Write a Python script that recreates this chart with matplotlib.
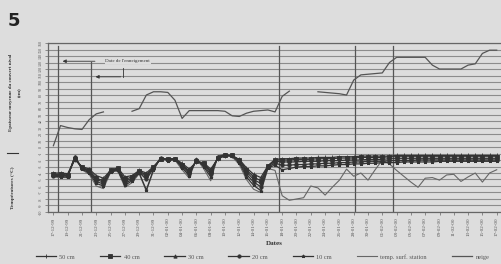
import matplotlib
matplotlib.use("Agg")
import matplotlib.pyplot as plt
import numpy as np
import datetime as dt

start = dt.date(1999, 12, 17)
days = list(range(63))

snow_cm = [2, 33, 30, 28, 27, 42, 51, 54, np.nan, np.nan,
           np.nan, 55, 59, 80, 85, 85, 84, 72, 44, 56,
           56, 56, 56, 56, 55, 48, 47, 52, 55, 56,
           57, 54, 78, 86, np.nan, np.nan, np.nan, 85, 84, 83,
           82, 80, 103, 111, 112, 113, 114, 130, 138, 138,
           138, 138, 138, 126, 120, 120, 120, 120, 126, 128,
           144, 149, 149]

t50 = [-4.0, -4.0, -4.1, -2.0, -3.0, -3.4, -4.4, -4.8, -3.6, -3.2,
       -4.6, -4.4, -3.6, -4.0, -3.0, -1.9, -1.8, -1.8, -2.5, -3.4,
       -2.3, -2.4, -3.4, -1.8, -1.4, -1.4, -1.9, -3.2, -4.2, -4.7,
       -2.9, -1.9, -1.8, -1.8, -1.7, -1.7, -1.7, -1.6, -1.6, -1.6,
       -1.5, -1.5, -1.5, -1.4, -1.4, -1.4, -1.4, -1.4, -1.3, -1.3,
       -1.3, -1.3, -1.3, -1.3, -1.3, -1.3, -1.3, -1.3, -1.3, -1.3,
       -1.3, -1.3, -1.3]
t40 = [-4.2, -4.2, -4.3, -1.8, -3.1, -3.6, -4.8, -5.2, -3.5, -3.3,
       -5.0, -4.6, -3.7, -4.3, -3.1, -1.8, -1.9, -1.8, -2.7, -3.7,
       -2.2, -2.5, -3.7, -1.7, -1.3, -1.3, -2.0, -3.5, -4.6, -5.2,
       -2.9, -2.0, -2.0, -2.0, -1.9, -1.9, -1.9, -1.8, -1.8, -1.8,
       -1.7, -1.7, -1.7, -1.6, -1.6, -1.6, -1.6, -1.5, -1.5, -1.5,
       -1.5, -1.5, -1.5, -1.5, -1.5, -1.5, -1.5, -1.5, -1.5, -1.5,
       -1.5, -1.5, -1.5]
t30 = [-4.3, -4.3, -4.4, -1.6, -3.2, -3.7, -5.0, -5.4, -3.5, -3.4,
       -5.3, -4.8, -3.8, -4.6, -3.2, -1.8, -1.9, -1.8, -2.8, -3.9,
       -2.1, -2.6, -3.9, -1.6, -1.3, -1.3, -2.0, -3.8, -5.0, -5.6,
       -3.0, -2.2, -2.3, -2.3, -2.3, -2.2, -2.2, -2.2, -2.1, -2.1,
       -2.1, -2.0, -2.0, -2.0, -1.9, -1.9, -1.9, -1.8, -1.8, -1.8,
       -1.8, -1.8, -1.8, -1.8, -1.8, -1.8, -1.8, -1.8, -1.8, -1.8,
       -1.8, -1.8, -1.8]
t20 = [-4.4, -4.4, -4.5, -1.5, -3.3, -3.8, -5.3, -5.7, -3.7, -3.5,
       -5.6, -5.0, -3.9, -5.0, -3.3, -1.7, -2.0, -1.8, -3.0, -4.1,
       -2.0, -2.8, -4.2, -1.5, -1.2, -1.3, -2.2, -4.2, -5.4, -6.1,
       -3.1, -2.5, -2.8, -2.8, -2.7, -2.7, -2.6, -2.6, -2.5, -2.5,
       -2.4, -2.4, -2.3, -2.3, -2.2, -2.2, -2.2, -2.1, -2.1, -2.1,
       -2.1, -2.0, -2.0, -2.0, -2.0, -2.0, -2.0, -2.0, -2.0, -2.0,
       -2.0, -2.0, -2.0]
t10 = [-4.5, -4.6, -4.6, -1.5, -3.4, -4.0, -5.6, -6.0, -3.8, -3.6,
       -5.9, -5.2, -4.0, -6.6, -3.5, -1.7, -2.1, -1.9, -3.2, -4.4,
       -1.9, -3.0, -4.6, -1.5, -1.2, -1.4, -2.4, -4.6, -5.9, -6.7,
       -3.2, -2.8, -3.5, -3.3, -3.1, -3.0, -3.0, -2.9, -2.9, -2.8,
       -2.7, -2.7, -2.6, -2.6, -2.5, -2.5, -2.4, -2.4, -2.4, -2.3,
       -2.3, -2.3, -2.3, -2.3, -2.2, -2.2, -2.2, -2.2, -2.2, -2.2,
       -2.2, -2.2, -2.2]
t_surf = [-4.6, -4.7, -4.7, -1.4, -3.5, -4.2, -6.0, -6.4, -3.9, -3.6,
          -6.2, -5.5, -4.1, -6.8, -3.6, -1.6, -2.1, -2.0, -3.5, -4.8,
          -1.8, -3.3, -5.2, -1.4, -1.1, -1.5, -2.7, -5.0, -6.5, -7.0,
          -3.3, -3.6, -7.5, -8.2, -8.0, -7.8, -6.0, -6.3, -7.4, -6.2,
          -5.1, -3.4, -4.5, -4.0, -5.1, -3.5, -2.0, -2.6, -3.6, -4.5,
          -5.4, -6.2, -4.8, -4.7, -5.1, -4.3, -4.2, -5.3, -4.6, -4.0,
          -5.4, -4.0, -3.5]

event_days = [0.7, 5.3, 31.6, 42.2, 47.5]
date_labels = [(start + dt.timedelta(days=d)).strftime("%d-%m-%y") for d in range(0, 63, 2)]

bg = "#dddddd"
ink = "#333333"
grid_c = "#8c8c8c"
serif = ["Liberation Serif", "DejaVu Serif"]

fig = plt.figure(figsize=(5.01, 2.64), dpi=100, facecolor=bg)
ax = fig.add_axes([0.096, 0.197, 0.904, 0.640])
ax.set_facecolor(bg)
ax.set_xlim(-0.74, 62.6)
ax.set_ylim(-10, 16)

for y in range(-10, 17):
    ax.axhline(y, color=grid_c, lw=0.8, zorder=1)

tops = [0.98, 0.89, 0.98, 0.98, 0.98]
for d, tp in zip(event_days, tops):
    ax.axvline(d, ymin=0, ymax=tp, color="#555555", lw=0.9, zorder=2)

series = [(t50, "+", "50 cm"), (t40, "s", "40 cm"), (t30, "^", "30 cm"),
          (t20, "o", "20 cm"), (t10, "*", "10 cm")]
handles = []
for vals, mk, lab in series:
    h, = ax.plot(days, vals, color=ink, lw=0.9, marker=mk, ms=2.4,
                 mfc=ink, mec=ink, mew=0.6, label=lab, zorder=4)
    handles.append(h)
h, = ax.plot(days, t_surf, color="#666666", lw=0.8, label="temp. surf. station", zorder=3)
handles.append(h)

ax2 = ax.twinx()
ax2.set_ylim(-100, 160)
h, = ax2.plot(days, snow_cm, color="#555555", lw=0.9, label="neige", zorder=3)
handles.append(h)
ax2.set_yticks([])
for sp in ax2.spines.values():
    sp.set_visible(False)

# annotation
ax.annotate("", xy=(event_days[0] + 0.2, 13.2), xytext=(6.2, 13.2),
            arrowprops=dict(arrowstyle="-|>", color=ink, lw=0.6, mutation_scale=5), zorder=6)
ax.text(10.4, 13.2, "Date de l'enneigement", fontsize=3.6, family=serif,
        ha="center", va="center", color=ink,
        bbox=dict(boxstyle="square,pad=0.15", fc=bg, ec="none"), zorder=6)
ax.plot([9.8, 9.8], [10.8, 12.2], color=ink, lw=0.6, zorder=6)
ax.annotate("", xy=(event_days[1] + 0.2, 10.8), xytext=(9.8, 10.8),
            arrowprops=dict(arrowstyle="-|>", color=ink, lw=0.6, mutation_scale=5), zorder=6)

ax.set_xticks(list(range(0, 63, 2)))
ax.set_xticklabels(date_labels, rotation=90, fontsize=3.6, family=serif, color="#555555")
yt = list(range(-10, 17))
ax.set_yticks(yt)
ax.set_yticklabels([str(v) if v <= 0 else str(v * 10) for v in yt],
                   rotation=90, fontsize=3.0, family=serif, color="#555555", va="center")
ax.tick_params(axis="both", length=2, width=0.5, color="#666666", pad=2)
for s in ["top", "left", "bottom"]:
    ax.spines[s].set_color("#666666")
    ax.spines[s].set_linewidth(0.9)
ax.spines["right"].set_visible(False)

ax.set_xlabel("Dates", fontsize=5, family=serif, fontweight="bold", labelpad=3, color=ink)

fig.text(0.022, 0.65, "Epaisseur moyenne du couvert nival", rotation=90, fontsize=3.6,
         family=serif, fontweight="bold", ha="center", va="center", color=ink)
fig.text(0.040, 0.65, "(cm)", rotation=90, fontsize=3.6, family=serif,
         fontweight="bold", ha="center", va="center", color=ink)
fig.add_artist(plt.Line2D([0.014, 0.036], [0.42, 0.42], color=ink, lw=0.8))
fig.text(0.026, 0.29, "Températures (°C)", rotation=90, fontsize=3.8, family=serif,
         fontweight="bold", ha="center", va="center", color=ink)

fig.text(0.016, 0.955, "5", fontsize=13, fontweight="bold", ha="left", va="top",
         color="#222222", family="DejaVu Sans")

fig.legend(handles=handles, loc="lower left", bbox_to_anchor=(0.06, -0.005), ncol=7,
           frameon=False, prop={"family": serif, "size": 4.6}, handlelength=3.2,
           columnspacing=3.9, handletextpad=0.5, labelcolor="#555555")

fig.savefig("out.png", dpi=100, facecolor=bg)
